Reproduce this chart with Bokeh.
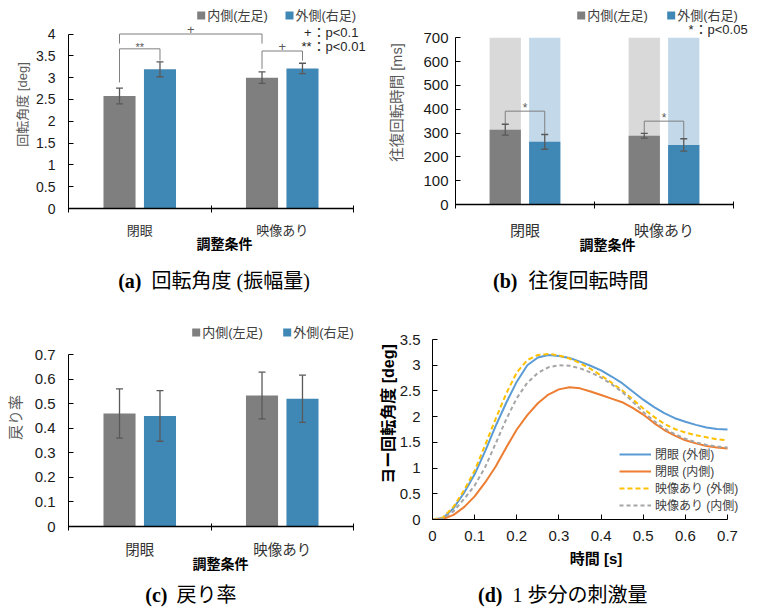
from bokeh.plotting import figure
from bokeh.models import (Range1d, FixedTicker, Legend, LegendItem, Whisker, TeeHead,
                          ColumnDataSource, Label)
from bokeh.core.properties import value
from bokeh.layouts import row, column
from bokeh.embed import file_html
from bokeh.resources import INLINE

# ---------------- data ----------------
categories = ["閉眼", "映像あり"]
series_labels = ["内側(左足)", "外側(右足)"]
x_title = "調整条件"

# (a) rotation angle
a_inner = [2.58, 3.00]
a_inner_err = [0.18, 0.13]
a_outer = [3.19, 3.21]
a_outer_err = [0.17, 0.12]
a_yticks = [0, 0.5, 1, 1.5, 2, 2.5, 3, 3.5, 4]
a_ytick_labels = ["0", "0.5", "1", "1.5", "2", "2.5", "3", "3.5", "4"]
a_ylabel = "回転角度 [deg]"
a_br_from_cat = [0, 0, 1]
a_br_from_series = [0, 0, 0]
a_br_to_cat = [0, 1, 1]
a_br_to_series = [1, 0, 1]
a_br_top = [3.66, 4.00, 3.61]
a_br_from_end = [2.89, 3.78, 3.20]
a_br_to_end = [3.39, 3.78, 3.39]
a_br_marks = ["**", "+", "+"]
a_note_marks = ["+", "**"]
a_note_texts = ["：p<0.1", "：p<0.01"]

# (b) round-trip rotation time
b_inner = [314, 289]
b_inner_err = [23, 10]
b_outer = [263, 250]
b_outer_err = [31, 26]
b_ymax = 700
b_yticks = [0, 100, 200, 300, 400, 500, 600, 700]
b_ytick_labels = ["0", "100", "200", "300", "400", "500", "600", "700"]
b_ylabel = "往復回転時間 [ms]"
b_br_from_cat = [0, 1]
b_br_from_series = [0, 0]
b_br_to_cat = [0, 1]
b_br_to_series = [1, 1]
b_br_top = [392, 350]
b_br_from_end = [336, 299]
b_br_to_end = [294, 276]
b_br_marks = ["*", "*"]
b_note_marks = ["*"]
b_note_texts = ["：p<0.05"]

# (c) return ratio
c_inner = [0.46, 0.533]
c_inner_err = [0.10, 0.095]
c_outer = [0.45, 0.52]
c_outer_err = [0.103, 0.096]
c_yticks = [0, 0.1, 0.2, 0.3, 0.4, 0.5, 0.6, 0.7]
c_ytick_labels = ["0", "0.1", "0.2", "0.3", "0.4", "0.5", "0.6", "0.7"]
c_ylabel = "戻り率"

# (d) stimulus per step
d_time = [0.0, 0.025, 0.05, 0.075, 0.1, 0.125, 0.15, 0.175, 0.2, 0.225, 0.25, 0.275,
          0.3, 0.325, 0.35, 0.375, 0.4, 0.425, 0.45, 0.475, 0.5, 0.525, 0.55, 0.575,
          0.6, 0.625, 0.65, 0.675, 0.7]
d_closed_outer = [0.0, 0.03, 0.22, 0.52, 0.88, 1.33, 1.82, 2.27, 2.68, 3.00, 3.15, 3.20,
                  3.18, 3.14, 3.07, 2.99, 2.90, 2.78, 2.65, 2.49, 2.33, 2.19, 2.07, 1.97,
                  1.90, 1.84, 1.79, 1.76, 1.75]
d_closed_inner = [0.0, 0.01, 0.09, 0.24, 0.45, 0.72, 1.03, 1.40, 1.75, 2.03, 2.26, 2.43,
                  2.53, 2.57, 2.55, 2.49, 2.42, 2.35, 2.28, 2.17, 2.04, 1.88, 1.74, 1.63,
                  1.54, 1.48, 1.43, 1.40, 1.38]
d_video_outer = [0.0, 0.04, 0.25, 0.57, 0.95, 1.45, 1.96, 2.45, 2.86, 3.10, 3.20, 3.22,
                 3.19, 3.13, 3.04, 2.93, 2.80, 2.66, 2.51, 2.34, 2.16, 2.00, 1.86, 1.76,
                 1.69, 1.64, 1.60, 1.56, 1.54]
d_video_inner = [0.0, 0.02, 0.16, 0.40, 0.66, 1.02, 1.48, 1.95, 2.36, 2.66, 2.85, 2.96,
                 3.00, 2.99, 2.94, 2.86, 2.76, 2.63, 2.48, 2.29, 2.09, 1.92, 1.77, 1.66,
                 1.57, 1.50, 1.45, 1.42, 1.40]
d_series_labels = ["閉眼 (外側)", "閉眼 (内側)", "映像あり (外側)", "映像あり (内側)"]
d_xticks = [0, 0.1, 0.2, 0.3, 0.4, 0.5, 0.6, 0.7]
d_xtick_labels = ["0", "0.1", "0.2", "0.3", "0.4", "0.5", "0.6", "0.7"]
d_yticks = [0, 0.5, 1, 1.5, 2, 2.5, 3, 3.5]
d_ytick_labels = ["0", "0.5", "1", "1.5", "2", "2.5", "3", "3.5"]
d_xlabel = "時間 [s]"
d_ylabel = "ヨー回転角度 [deg]"

caption_tags = ["(a)", "(b)", "(c)", "(d)"]
caption_texts = ["回転角度 (振幅量)", "往復回転時間", "戻り率", "1 歩分の刺激量"]

# ---------------- style ----------------
GRAY = "#7f7f7f"
BLUE = "#3f87b5"
GRAY_BG = "#d9d9d9"
BLUE_BG = "#c3d9ea"
ERR = "#595959"
BRACKET = "#7f7f7f"
SANS = "Liberation Sans, Noto Sans CJK JP"
SERIF = "Liberation Serif, Noto Sans CJK JP"
OFFSETS = [-0.142, 0.142]
BAR_W = 0.225
LINE_COLORS = ["#5b9bd5", "#ed7d31", "#ffc000", "#a5a5a5"]
LINE_DASH = ["solid", "solid", "5 3", "4 3"]
MARK_OFFSET = {"**": 2, "+": 5, "*": 3}


def make_fig(fig_left, fig_top, frame_box, border_bottom, x_lo, x_ppu, y_lo, y_ppu):
    """frame_box = (left, right, top, bottom) of the plot frame in page pixels."""
    l, r, t, b = frame_box
    x_hi = x_lo + (r - l) / x_ppu
    y_hi = y_lo + (b - t) / y_ppu
    p = figure(width=r - fig_left, height=b - fig_top + border_bottom,
               frame_width=r - l, frame_height=b - t,
               x_range=Range1d(x_lo, x_hi), y_range=Range1d(y_lo, y_hi),
               min_border_left=l - fig_left, min_border_right=0,
               min_border_top=t - fig_top, min_border_bottom=border_bottom,
               output_backend="svg", toolbar_location=None, tools="", title=None)
    p.xgrid.visible = False
    p.ygrid.visible = False
    p.outline_line_color = None
    p.background_fill_color = "white"
    p.border_fill_color = "white"

    def to_data(px, py):
        return x_lo + (px - l) / x_ppu, y_lo + (b - py) / y_ppu
    return p, to_data


def style_y(ax, ticks, labels, label, label_color, label_size, label_bold,
            tick_size, tick_standoff, label_standoff):
    ax.ticker = FixedTicker(ticks=ticks)
    ax.major_label_overrides = dict(zip(ticks, labels))
    ax.bounds = (ticks[0], ticks[-1])
    ax.major_tick_in = 5
    ax.major_tick_out = 0
    ax.major_tick_line_color = "black"
    ax.minor_tick_line_color = None
    ax.axis_line_color = "black"
    ax.axis_line_width = 1
    ax.major_label_text_font = SANS
    ax.major_label_text_font_size = tick_size
    ax.major_label_text_color = "#1a1a1a"
    ax.major_label_standoff = tick_standoff
    ax.axis_label = label
    ax.axis_label_text_font = SANS
    ax.axis_label_text_font_size = label_size
    ax.axis_label_text_font_style = "bold" if label_bold else "normal"
    ax.axis_label_text_color = label_color
    ax.axis_label_standoff = label_standoff


def bar_panel(fig_left, fig_top, frame_box, border_bottom, cat_px, y_ppu,
              inner, inner_err, outer, outer_err, yticks, ytick_labels, ylabel,
              tick_size, tick_standoff, ylabel_size, ylabel_standoff,
              cat_size, cat_standoff, title_standoff, legend_px, bg_top=None):
    p, to_data = make_fig(fig_left, fig_top, frame_box, border_bottom, 0, cat_px, 0, y_ppu)
    centers = [i + 0.5 for i in range(len(categories))]
    x_in = [c + OFFSETS[0] for c in centers]
    x_out = [c + OFFSETS[1] for c in centers]
    if bg_top is not None:
        p.vbar(x=x_in, top=bg_top, width=BAR_W, fill_color=GRAY_BG, line_color=None)
        p.vbar(x=x_out, top=bg_top, width=BAR_W, fill_color=BLUE_BG, line_color=None)
    p.vbar(x=x_in, top=inner, width=BAR_W, fill_color=GRAY, line_color=None)
    p.vbar(x=x_out, top=outer, width=BAR_W, fill_color=BLUE, line_color=None)

    vals = list(inner) + list(outer)
    errs = list(inner_err) + list(outer_err)
    src = ColumnDataSource(dict(x=x_in + x_out,
                                upper=[v + e for v, e in zip(vals, errs)],
                                lower=[v - e for v, e in zip(vals, errs)]))
    p.add_layout(Whisker(source=src, base="x", upper="upper", lower="lower",
                         line_color=ERR, line_width=1.3, level="overlay",
                         upper_head=TeeHead(size=7, line_color=ERR, line_width=1.3),
                         lower_head=TeeHead(size=7, line_color=ERR, line_width=1.3)))

    xa = p.xaxis[0]
    xa.ticker = FixedTicker(ticks=centers, minor_ticks=list(range(len(categories) + 1)))
    xa.major_label_overrides = dict(zip(centers, categories))
    xa.bounds = (0, len(categories))
    xa.major_tick_in = 0
    xa.major_tick_out = 0
    xa.minor_tick_in = 3
    xa.minor_tick_out = 4
    xa.minor_tick_line_color = "black"
    xa.axis_line_color = "black"
    xa.axis_line_width = 1.4
    xa.major_label_text_font = SANS
    xa.major_label_text_font_size = cat_size
    xa.major_label_text_color = "#333333"
    xa.major_label_standoff = cat_standoff
    xa.axis_label = x_title
    xa.axis_label_text_font = SANS
    xa.axis_label_text_font_size = "14px"
    xa.axis_label_text_font_style = "bold"
    xa.axis_label_text_color = "black"
    xa.axis_label_standoff = title_standoff

    style_y(p.yaxis[0], yticks, ytick_labels, ylabel, "#595959", ylabel_size, False,
            tick_size, tick_standoff, ylabel_standoff)

    # legend: coloured squares + labels
    sq_x, sq_y = legend_px
    pts = [to_data(sx, sq_y) for sx in sq_x]
    p.scatter(x=[q[0] for q in pts], y=[q[1] for q in pts], marker="square", size=8,
              fill_color=[GRAY, BLUE], line_color=None)
    for (qx, qy), lab in zip(pts, series_labels):
        p.add_layout(Label(x=qx, y=qy, x_offset=6, text=lab, text_font=SANS,
                           text_font_size="13px", text_color="#404040",
                           text_align="left", text_baseline="middle"))
    return p, to_data, centers


def add_brackets(p, centers, from_cat, from_ser, to_cat, to_ser, top, from_end, to_end,
                 marks, size_map):
    x0 = [centers[c] + OFFSETS[s] for c, s in zip(from_cat, from_ser)]
    x1 = [centers[c] + OFFSETS[s] for c, s in zip(to_cat, to_ser)]
    xs = [[u, u, v, v] for u, v in zip(x0, x1)]
    ys = [[e0, t, t, e1] for e0, t, e1 in zip(from_end, top, to_end)]
    p.multi_line(xs, ys, line_color=BRACKET, line_width=1)
    for u, v, t, m in zip(x0, x1, top, marks):
        p.add_layout(Label(x=(u + v) / 2, y=t, text=m, text_font="Liberation Sans",
                           text_font_size=size_map[m], text_color="#595959",
                           text_align="center", text_baseline="middle",
                           y_offset=MARK_OFFSET[m]))


def add_notes(p, to_data, marks, texts, text_left, ys_px, size):
    for m, t, ypx in zip(marks, texts, ys_px):
        xd, yd = to_data(text_left, ypx)
        p.add_layout(Label(x=xd, y=yd, text=m, text_font="Liberation Sans",
                           text_font_size=size, text_color="#262626",
                           text_align="right", text_baseline="middle", x_offset=-1))
        p.add_layout(Label(x=xd, y=yd, text=t, text_font=SANS, text_font_size=size,
                           text_color="#262626", text_align="left",
                           text_baseline="middle"))


def caption_fig(top, height, tags, texts, tag_right, text_left, y_center, size):
    p = figure(width=759, height=height, x_range=Range1d(0, 759),
               y_range=Range1d(top + height, top), min_border_left=0, min_border_right=0,
               min_border_top=0, min_border_bottom=0, x_axis_type=None, y_axis_type=None,
               output_backend="svg", toolbar_location=None, tools="", title=None)
    p.outline_line_color = None
    p.xgrid.visible = False
    p.ygrid.visible = False
    p.text(x=tag_right, y=[y_center] * len(tags), text=tags,
           text_font=value("Liberation Serif"), text_font_style="bold",
           text_font_size=size, text_color="black", text_align="right",
           text_baseline="middle")
    p.text(x=text_left, y=[y_center] * len(texts), text=texts,
           text_font=value(SERIF), text_font_style="normal",
           text_font_size=size, text_color="black", text_align="left",
           text_baseline="middle")
    return p


# ---------------- panel (a) ----------------
pa, ta, ca = bar_panel(0, 0, (68, 380, 0, 208), 50, 142.5, 174.5 / 4,
                       a_inner, a_inner_err, a_outer, a_outer_err,
                       a_yticks, a_ytick_labels, a_ylabel, "14px", 13, "13px", 3,
                       "13px", 10, -5, ([200.7, 289], 15))
add_brackets(pa, ca, a_br_from_cat, a_br_from_series, a_br_to_cat, a_br_to_series,
             a_br_top, a_br_from_end, a_br_to_end, a_br_marks,
             {"**": "11px", "+": "13px"})
add_notes(pa, ta, a_note_marks, a_note_texts, 312, [32, 46], "13px")

# ---------------- panel (b) ----------------
pb, tb, cb = bar_panel(380, 0, (455, 759, 0, 204), 54, 139, 166.7 / 700,
                       b_inner, b_inner_err, b_outer, b_outer_err,
                       b_yticks, b_ytick_labels, b_ylabel, "15px", 7, "14.5px", 15,
                       "15px", 13, -5, ([580.7, 670.7], 15), bg_top=b_ymax)
add_brackets(pb, cb, b_br_from_cat, b_br_from_series, b_br_to_cat, b_br_to_series,
             b_br_top, b_br_from_end, b_br_to_end, b_br_marks, {"*": "12px"})
add_notes(pb, tb, b_note_marks, b_note_texts, 694, [29], "13px")

# ---------------- panel (c) ----------------
pc, tc, cc = bar_panel(0, 308, (68, 372, 308, 526), 52, 142.5, 172 / 0.7,
                       c_inner, c_inner_err, c_outer, c_outer_err,
                       c_yticks, c_ytick_labels, c_ylabel, "15px", 13, "15px", 8,
                       "14.5px", 11, -5, ([195.7, 286.7], 332))

# ---------------- panel (d) ----------------
pd_, td = make_fig(372, 308, (432, 759, 308, 519), 59, 0, 295 / 0.7, 0, 180 / 3.5)
d_series = [d_closed_outer, d_closed_inner, d_video_outer, d_video_inner]
d_renderers = []
for ys, col, dash in zip(d_series, LINE_COLORS, LINE_DASH):
    d_renderers.append(pd_.line(d_time, ys, line_color=col, line_width=2, line_dash=dash))

xa = pd_.xaxis[0]
xa.ticker = FixedTicker(ticks=d_xticks)
xa.major_label_overrides = dict(zip(d_xticks, d_xtick_labels))
xa.bounds = (d_xticks[0], d_xticks[-1])
xa.major_tick_in = 5
xa.major_tick_out = 0
xa.major_tick_line_color = "black"
xa.minor_tick_line_color = None
xa.axis_line_color = "black"
xa.axis_line_width = 1.2
xa.major_label_text_font = SANS
xa.major_label_text_font_size = "15px"
xa.major_label_text_color = "#1a1a1a"
xa.major_label_standoff = 11
xa.axis_label = d_xlabel
xa.axis_label_text_font = SANS
xa.axis_label_text_font_size = "15px"
xa.axis_label_text_font_style = "bold"
xa.axis_label_text_color = "black"
xa.axis_label_standoff = 6

style_y(pd_.yaxis[0], d_yticks, d_ytick_labels, d_ylabel, "black", "16px", True,
        "15px", 12, 0)

d_legend = Legend(items=[LegendItem(label=lab, renderers=[r])
                         for lab, r in zip(d_series_labels, d_renderers)],
                  orientation="vertical", location=(187, 6), glyph_width=32,
                  glyph_height=16, label_height=16, label_standoff=4, spacing=0,
                  padding=0, margin=0, border_line_color=None, background_fill_alpha=0,
                  label_text_font=SANS, label_text_font_size="12px",
                  label_text_color="#404040")
pd_.add_layout(d_legend)

# ---------------- captions ----------------
cap_top = caption_fig(258, 50, caption_tags[:2], caption_texts[:2], [141, 517], [151, 528],
                      280, "20px")
cap_bot = caption_fig(578, 31, caption_tags[2:], caption_texts[2:], [167, 502], [176, 512],
                      594, "20px")

layout = column(row(pa, pb), cap_top, row(pc, pd_), cap_bot)
open("out.html", "w").write(file_html(layout, INLINE))
